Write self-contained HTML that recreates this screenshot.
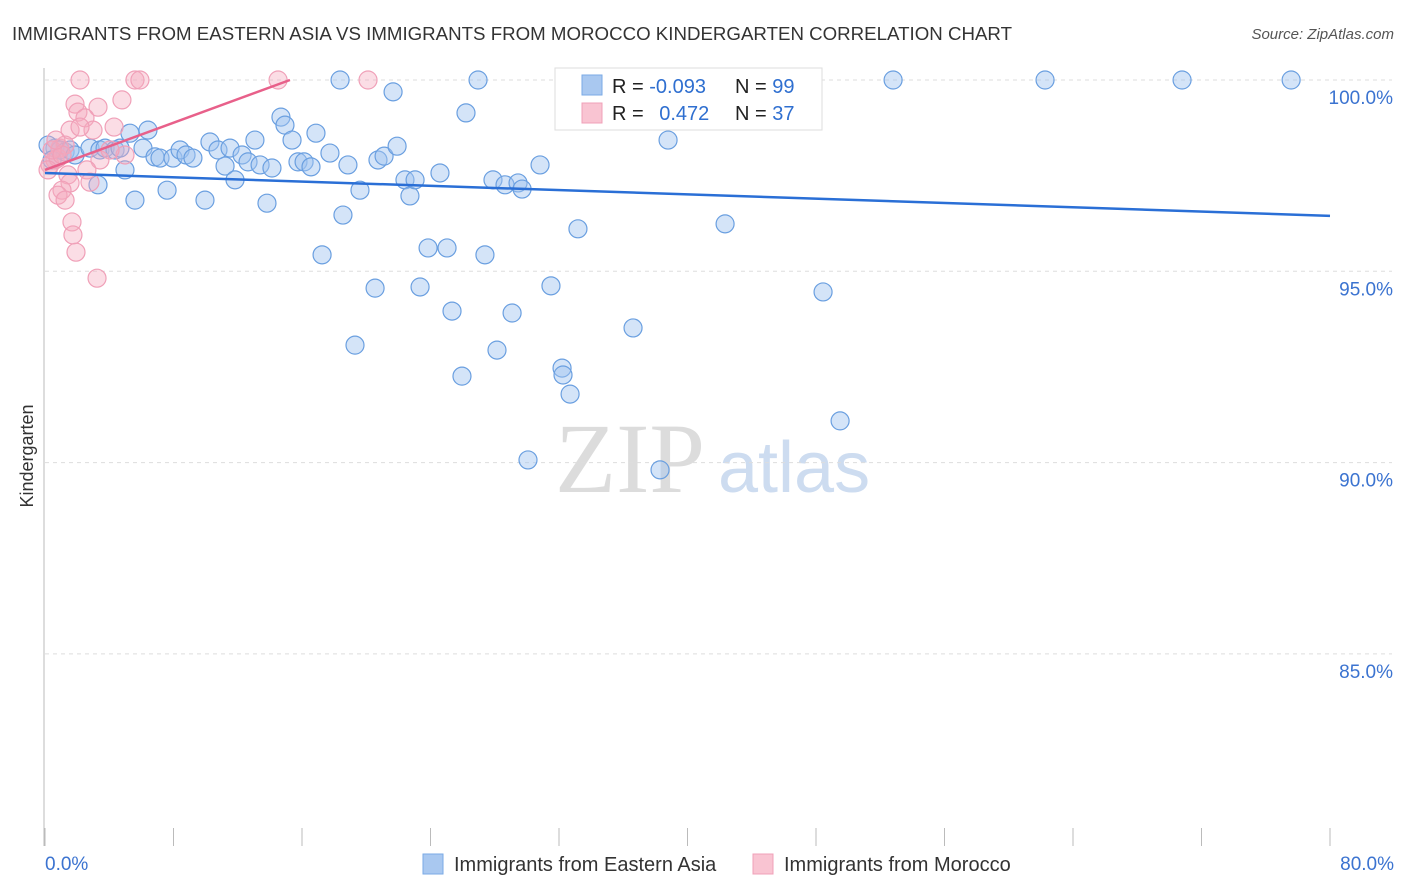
<!DOCTYPE html>
<html><head><meta charset="utf-8"><style>
body{margin:0;background:#fff;font-family:"Liberation Sans",sans-serif;}
svg{display:block}
</style></head><body>
<svg width="1406" height="892" xmlns="http://www.w3.org/2000/svg">
<text x="12" y="40" font-size="18" fill="#333" textLength="1000" lengthAdjust="spacingAndGlyphs">IMMIGRANTS FROM EASTERN ASIA VS IMMIGRANTS FROM MOROCCO KINDERGARTEN CORRELATION CHART</text>
<text x="1394" y="39" font-size="15" fill="#555" font-style="italic" text-anchor="end">Source: ZipAtlas.com</text>
<text x="555" y="492" font-size="100" fill="#dcdcdc" font-family="Liberation Serif,serif">ZIP</text>
<text x="718" y="492" font-size="72" fill="#cddcf0">atlas</text>
<g id="grid"></g>
<g id="axes"></g>
<g id="pts"></g>
<g id="lines"></g>
<text transform="translate(33,456) rotate(-90)" font-size="18" fill="#333" text-anchor="middle">Kindergarten</text>
<g>
<rect x="555" y="68" width="267" height="62" fill="#fff" stroke="#ddd"/>
<rect x="582" y="75" width="20" height="20" fill="#a9c8f0" stroke="#7aaae6"/>
<rect x="582" y="103" width="20" height="20" fill="#f9c4d2" stroke="#f0a0b8"/>
<text x="612" y="93" font-size="20" fill="#222">R = <tspan fill="#2f6fd0">-0.093</tspan></text>
<text x="735" y="93" font-size="20" fill="#222">N = <tspan fill="#2f6fd0">99</tspan></text>
<text x="612" y="120" font-size="20" fill="#222">R = <tspan fill="#2f6fd0" dx="10">0.472</tspan></text>
<text x="735" y="120" font-size="20" fill="#222">N = <tspan fill="#2f6fd0">37</tspan></text>
</g>
<g>
<rect x="423" y="854" width="20" height="20" fill="#a9c8f0" stroke="#7aaae6"/>
<text x="454" y="871" font-size="20" fill="#333">Immigrants from Eastern Asia</text>
<rect x="753" y="854" width="20" height="20" fill="#f9c4d2" stroke="#f0a0b8"/>
<text x="784" y="871" font-size="20" fill="#333">Immigrants from Morocco</text>
</g>
</svg>
<script>
const blueX=[0.62,0.93,1.25,1.56,1.87,2.80,3.42,3.74,4.36,4.67,3.30,4.98,5.29,5.60,6.10,6.41,6.85,7.16,7.60,7.97,8.41,8.78,9.21,9.96,10.27,10.77,11.21,11.52,11.83,12.27,12.64,13.07,13.39,13.82,14.13,14.69,14.94,15.38,15.75,16.13,16.56,16.87,17.25,17.74,18.37,18.55,18.86,19.30,19.61,20.55,20.73,21.11,21.67,21.92,22.41,22.72,23.04,23.35,23.85,24.59,25.03,25.34,25.96,26.21,26.96,27.39,27.89,28.14,28.64,29.08,29.45,29.70,30.07,30.82,31.50,32.19,32.25,32.69,33.18,36.61,37.04,38.29,38.79,42.34,43.15,48.44,49.50,52.80,62.26,70.79,77.58,0.19,0.44,34.24];
const blueY=[98.22,98.17,98.12,98.17,98.04,98.22,98.17,98.22,98.17,98.22,97.26,97.65,98.61,96.86,98.22,98.69,97.99,97.96,97.12,97.96,98.17,98.04,97.96,96.86,98.38,98.17,97.75,98.22,97.39,98.04,97.86,98.43,97.78,96.78,97.70,99.03,98.82,98.43,97.86,97.86,97.73,98.61,95.43,98.09,100,96.47,97.78,93.07,97.12,94.56,97.91,98.01,99.69,98.27,97.39,96.97,97.39,94.59,95.61,97.57,95.61,93.96,92.26,99.14,100,95.43,97.39,92.94,97.26,93.91,97.31,97.15,90.07,97.78,94.62,92.47,92.29,91.79,96.11,93.52,100,89.81,98.43,96.24,100,94.46,91.09,100,100,100,100,98.30,97.91,100];
const pinkX=[2.18,5.60,5.91,14.51,20.11,1.87,3.30,4.79,2.05,2.49,1.56,2.99,4.30,2.18,0.93,0.62,0.31,0.81,1.25,3.42,4.98,2.61,1.43,1.56,2.80,1.06,0.81,1.25,1.68,1.74,1.93,3.24,0.44,1.06,0.19,0.68,4.05];
const pinkY=[100,100,100,100,100,99.37,99.29,99.48,99.16,99.01,98.69,98.69,98.77,98.77,98.22,97.91,97.78,97.96,98.30,97.91,98.04,97.65,97.52,97.31,97.33,97.12,96.99,96.86,96.29,95.95,95.50,94.82,98.17,98.04,97.65,98.43,98.17];
const blueTrend=[[0,97.57],[80,96.45]];
const pinkTrend=[[0,97.65],[15.25,100]];
const yTicks=[100,95,90,85];
const yTickLabels=["100.0%","95.0%","90.0%","85.0%"];
const xTicks=[0,8,16,24,32,40,48,56,64,72,80];
const NS="http://www.w3.org/2000/svg";
const sx=v=>45+v/80*1285;
const sy=v=>80+(100-v)*38.26;
function mk(tag,attrs,parent){const e=document.createElementNS(NS,tag);for(const k in attrs)e.setAttribute(k,attrs[k]);parent.appendChild(e);return e;}
const grid=document.getElementById('grid'),axes=document.getElementById('axes'),pts=document.getElementById('pts'),lines=document.getElementById('lines');
yTicks.forEach((t,i)=>{
  const l=mk('line',{x1:45,x2:1392,y1:sy(t),y2:sy(t),stroke:'#ddd','stroke-dasharray':'4,4'},grid);
  
  
  const tx=mk('text',{x:1393,y:sy(t)+24,'font-size':19,fill:'#3b73d0','text-anchor':'end'},axes);
  tx.textContent=yTickLabels[i];
  
  
});
const ya=mk('line',{x1:44,x2:44,y1:68,y2:846,stroke:'#bbb'},axes);


xTicks.forEach(t=>{
  const l=mk('line',{x1:sx(t),x2:sx(t),y1:828,y2:846,stroke:'#bbb'},axes);
  
  
});
const x0=mk('text',{x:45,y:870,'font-size':19,fill:'#3b73d0'},axes);x0.textContent='0.0%';


const x1=mk('text',{x:1394,y:870,'font-size':19,fill:'#3b73d0','text-anchor':'end'},axes);x1.textContent='80.0%';


blueX.forEach((v,i)=>{
  const c=mk('circle',{cx:sx(v),cy:sy(blueY[i]),r:9,fill:'rgba(160,196,240,0.45)',stroke:'#6a9fe0','stroke-width':1.2},pts);
  
  
});
pinkX.forEach((v,i)=>{
  const c=mk('circle',{cx:sx(v),cy:sy(pinkY[i]),r:9,fill:'rgba(245,170,190,0.4)',stroke:'#f0a0b8','stroke-width':1.2},pts);
  
  
});
const bl=mk('line',{x1:sx(blueTrend[0][0]),y1:sy(blueTrend[0][1]),x2:sx(blueTrend[1][0]),y2:sy(blueTrend[1][1]),stroke:'#2a6fd6','stroke-width':2.5},lines);


const pl=mk('line',{x1:sx(pinkTrend[0][0]),y1:sy(pinkTrend[0][1]),x2:sx(pinkTrend[1][0]),y2:sy(pinkTrend[1][1]),stroke:'#e8608a','stroke-width':2.5},lines);


</script>
</body></html>
